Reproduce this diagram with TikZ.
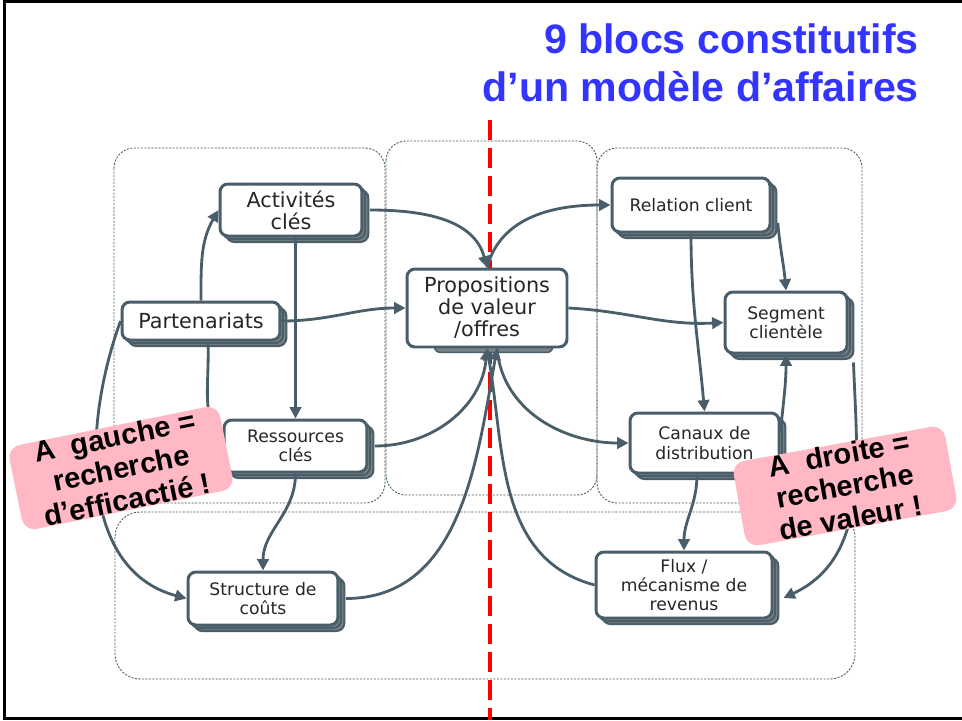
\documentclass[tikz,border=0pt]{standalone}
\usepackage{fontspec}
\setmainfont{Liberation Sans}
\newfontfamily\boxfont{DejaVu Sans}
\usetikzlibrary{arrows.meta}
\usetikzlibrary{shadows}
\definecolor{slate}{HTML}{4A5E6A}
\definecolor{shadowgrey}{HTML}{7C8287}
\definecolor{pinkbox}{HTML}{FFB8C4}
\definecolor{titleblue}{HTML}{3434FF}

\begin{document}
\begin{tikzpicture}[x=0.02cm, y=0.02cm,
    plainblok/.style={draw=slate, line width=1.7pt, fill=white, rounded corners=4.5pt,
        align=center, text=black!85, inner sep=2pt,
        font=\boxfont\fontsize{9.8}{11}\selectfont},
    blok/.style={plainblok,
        general shadow={shadow xshift=3.6pt, shadow yshift=-3.4pt, fill=shadowgrey, draw=slate, line width=1.2pt},
        general shadow={shadow xshift=1.8pt, shadow yshift=-1.7pt, fill=shadowgrey, draw=slate, line width=1.2pt}},
    bigtext/.style={font=\boxfont\fontsize{11.8}{12.5}\selectfont},
    link/.style={draw=slate, line width=1.6pt, -{Triangle[length=6.5pt,width=6.5pt]}},
    zone/.style={draw=slate, line width=0.5pt, dash pattern=on 1.2pt off 0.8pt, rounded corners=0.4cm},
    callout/.style={fill=pinkbox, rounded corners=0.25cm, align=center, inner sep=0pt,
        minimum width=4.3cm, minimum height=1.7cm,
        font=\bfseries\fontsize{16.5}{18.3}\selectfont}]

    \useasboundingbox (0,0) rectangle (962,-720);

    % frame
    \draw[line width=0.06cm] (962,-1.5)--(4.5,-1.5)--(4.5,-718.5)--(962,-718.5);

    % title
    \node[anchor=base east, text=titleblue, font=\bfseries\fontsize{23.4}{26}\selectfont] (title1) at (925,-53) {9 blocs constitutifs};
    \node[anchor=base east, text=titleblue, font=\bfseries\fontsize{23.4}{26}\selectfont] (title2) at (925,-101) {d’un modèle d’affaires};

    % zones
    \draw[zone] (114,-148) rectangle (385,-503);
    \draw[zone] (386,-141) rectangle (597,-495);
    \draw[zone] (597,-148) rectangle (862,-503);
    \draw[zone, rounded corners=0.5cm] (115,-512) rectangle (855,-679);

    % separation
    \draw[red, line width=0.08cm, dash pattern=on 0.4cm off 0.16cm] (490,-120)--(490,-720);

    % blocks
    \node[blok, bigtext, minimum width=2.84cm, minimum height=1.04cm] (act) at (291,-210) {Activités\\clés};
    \node[blok, font=\boxfont\fontsize{11.8}{13}\selectfont, minimum width=3.16cm, minimum height=0.76cm] (part) at (201,-321) {Partenariats};
    \node[blok, minimum width=2.86cm, minimum height=1.04cm] (res) at (295.5,-446) {Ressources\\clés};
    \node[blok, minimum width=3cm, minimum height=1.06cm] (cost) at (263,-598.5) {Structure de\\coûts};
    \node[plainblok, bigtext, minimum width=3.2cm, minimum height=1.56cm,
        general shadow={shadow scale=0.74, shadow xshift=0.18cm, shadow yshift=-0.42cm, fill=shadowgrey, draw=slate, line width=1.2pt}] (prop) at (487,-308) {Propositions\\de valeur\\/offres};
    \node[blok, minimum width=3.16cm, minimum height=1.08cm] (rel) at (691,-205) {Relation client};
    \node[blok, minimum width=2.44cm, minimum height=1.22cm] (seg) at (786,-322.5) {Segment\\clientèle};
    \node[blok, minimum width=2.98cm, minimum height=1.2cm] (can) at (704.5,-443) {Canaux de\\distribution};
    \node[blok, minimum width=3.52cm, minimum height=1.32cm] (flux) at (684,-585) {Flux /\\mécanisme de\\revenus};

    % links
    \draw[link] (part.north) to[out=90,in=240] (act.west);
    \draw[link] (part.east) to[out=0,in=180] (prop.west);
    \draw[link] (part.west) to[out=250,in=165] (cost.west);
    \draw[link] ([xshift=0.14cm]part.south) to[out=-88,in=120] (res.west);
    \draw[link] (act.south -| res.north) -- (res.north);
    \draw[link] ([xshift=3.6pt]act.east) to[out=0,in=105] (prop.north);
    \draw[link] (prop.north) to[out=75,in=180] (rel.west);
    \draw[link] (prop.east) to[out=-3,in=183] (seg.west);
    \draw[link] (rel.south) to[out=-90,in=95] (can.north);
    \draw[link] ([xshift=3.6pt,yshift=-0.36cm]rel.east) to[out=-85,in=95] (seg.north);
    \draw[link] ([yshift=0.2cm]can.east) to[out=85,in=-90] (seg.south);
    \draw[link] ([xshift=3.6pt]res.east) to[out=0,in=-95] (prop.south);
    \draw[link] ([xshift=3.6pt]cost.east) to[out=0,in=-100] ([xshift=0.2cm]prop.south);
    \draw[link] (flux.west) to[out=165,in=-80] (prop.south);
    \draw[link] ([xshift=0.2cm]prop.south) to[out=-85,in=180] (can.west);
    \draw[link] ([xshift=-0.15cm]can.south) to[out=-90,in=90] (flux.north);
    \draw[link] (res.south) to[out=-90,in=90] (cost.north);
    \draw[link] ([xshift=0.1cm,yshift=-0.16cm]seg.south east) to[out=-88,in=25] ([xshift=0.2cm,yshift=-0.26cm]flux.east);

    % callouts
    \node[callout, rotate=11.5] (gauche) at (121,-468) {A\ \ gauche =\\recherche\\d’efficactié !};
    \node[callout, rotate=10.3] (droite) at (845,-486) {A\ \ droite =\\recherche\\de valeur !};

\end{tikzpicture}
\end{document}
